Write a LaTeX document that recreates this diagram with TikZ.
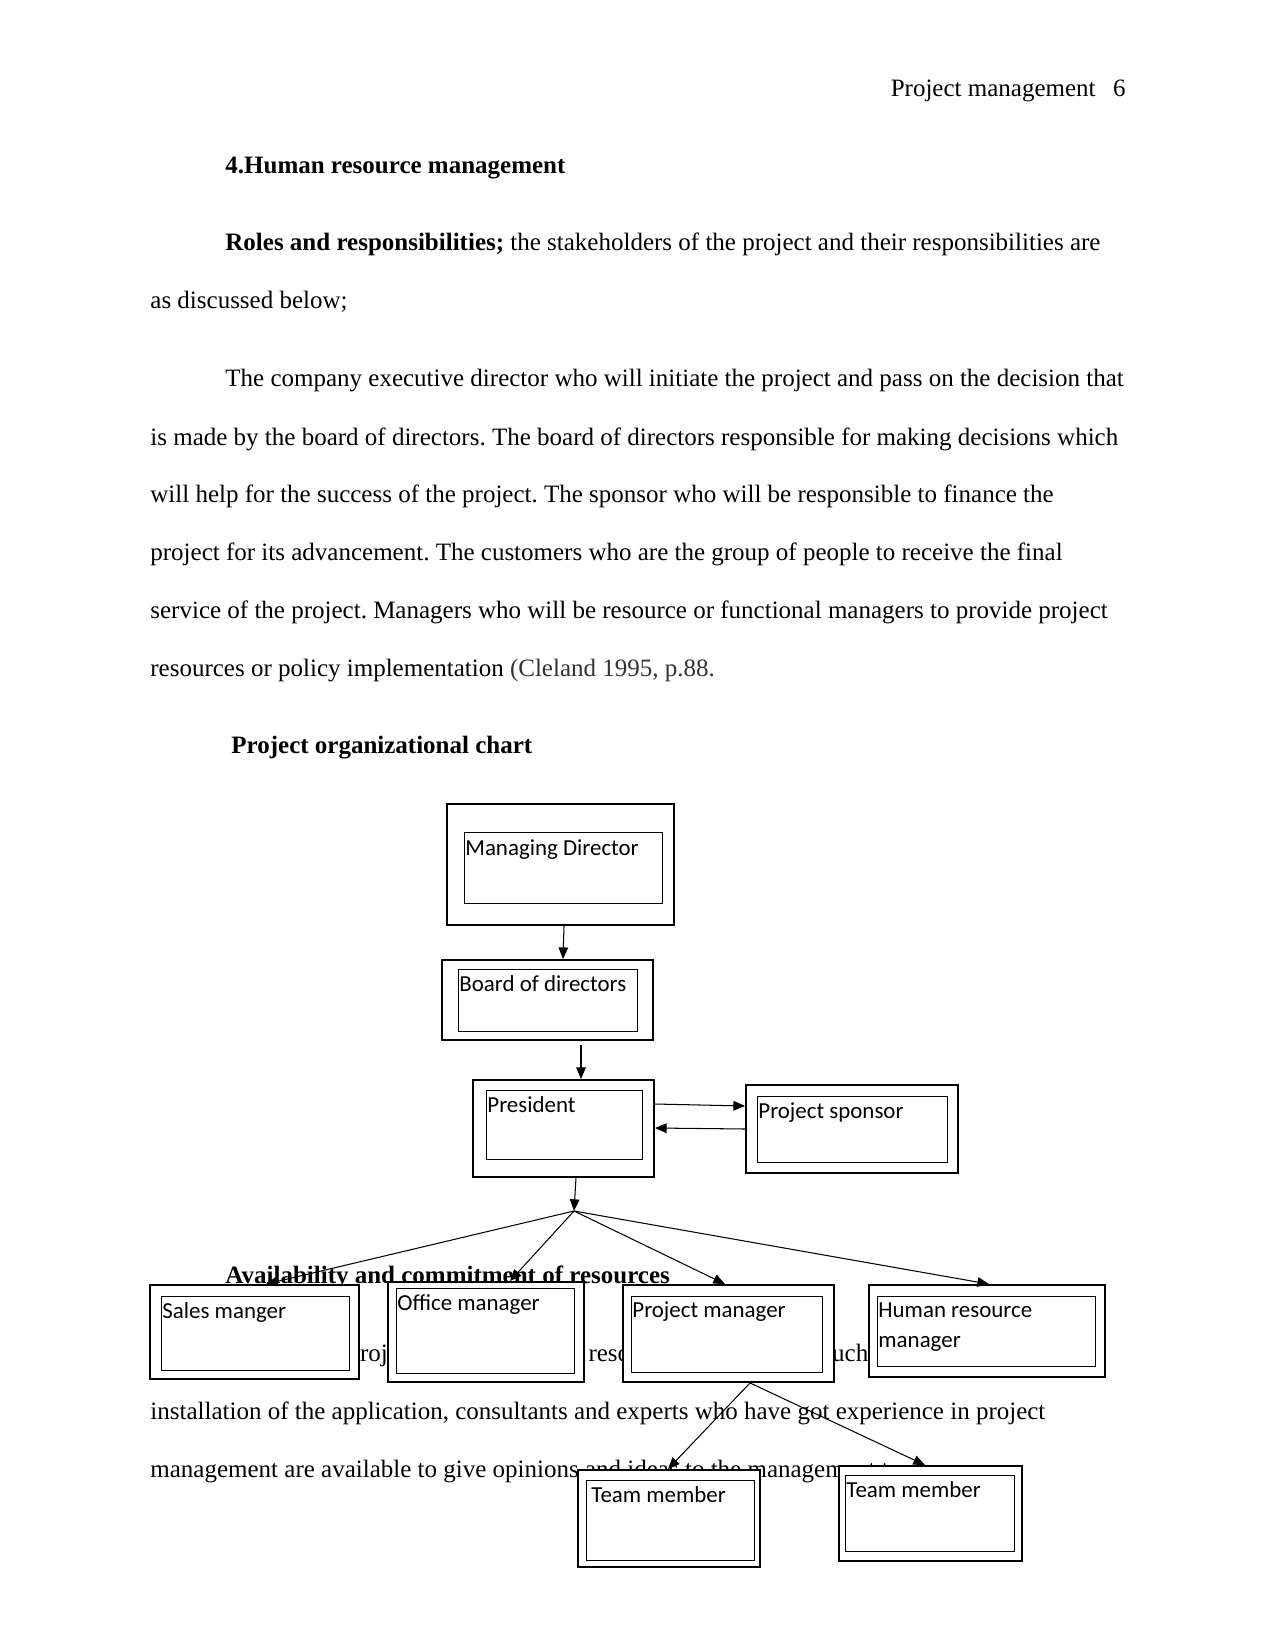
\documentclass[tikz,border=0pt]{standalone}
\usepackage{fontspec}
\setmainfont{Liberation Serif}
\newfontfamily\boxfont{Carlito}
\usepackage{xcolor}
\usetikzlibrary{arrows.meta, fit, positioning}
\definecolor{RefGray}{RGB}{51,51,51}
\frenchspacing
\tikzset{
  >={Triangle[length=5.6pt,width=4.6pt]},  % punta piena
  % Testo della pagina
  body/.style={anchor=base west,inner sep=0,font=\fontsize{12}{14}\selectfont},
  body bold/.style={body,font=\fontsize{12}{14}\selectfont\bfseries},
  % Riquadri dell'organigramma
  box out/.style={draw,line width=0.9pt,fill=white,inner sep=0},
  box in/.style={draw,line width=0.45pt,inner sep=0},
  box label/.style={anchor=base west,inner sep=0,font=\boxfont\fontsize{11}{14}\selectfont},
  % Connessioni
  connect arrow/.style={->,line width=0.5pt}
}

\begin{document}
\begin{tikzpicture}[x=0.48pt,y=-0.48pt]
  \fill[white] (0,0) rectangle (1275,1650);
  \useasboundingbox (0,0) rectangle (1275,1650);
  % intestazione
  \node[body,anchor=base east] (runhead) at (1096,97) {Project management};
  \node[body,anchor=base east] (pagenum) at (1126,97) {6};
  % testo
  \node[body bold] (sec) at (225,174) {4.Human resource management};
  \node[body] (p1a) at (225,251) {\textbf{Roles and responsibilities;} the stakeholders of the project and their responsibilities are};
  \node[body] (p1b) at (150,309) {as discussed below;};
  \node[body] (p2a) at (225,387) {The company executive director who will initiate the project and pass on the decision that};
  \node[body] (p2b) at (150,445) {is made by the board of directors. The board of directors responsible for making decisions which};
  \node[body] (p2c) at (150,502.5) {will help for the success of the project. The sponsor who will be responsible to finance the};
  \node[body] (p2d) at (150,560) {project for its advancement. The customers who are the group of people to receive the final};
  \node[body] (p2e) at (150,618) {service of the project. Managers who will be resource or functional managers to provide project};
  \node[body] (p2f) at (150,676) {resources or policy implementation \textcolor{RefGray}{(Cleland 1995, p.88.}};
  \node[body bold] (chart) at (231,753) {Project organizational chart};
  \node[body bold] (avail) at (225,1283) {Availability and commitment of resources};
  \node[body] (p3a) at (225,1361) {The needed project team and all the resources are available such as};
  \node[body] (p3b) at (150,1419) {installation of the application, consultants and experts who have got experience in project};
  \node[body] (p3c) at (150,1477) {management are available to give opinions and ideas to the management team.};
  % riquadri
  \node[box out,fit={(447,804) (674,925)}] (md) {};
  \node[box in,fit={(464,832) (662,903)}] (mdin) {};
  \node[box label] (mdtxt) at (465,855) {Managing Director};
  \node[box out,fit={(442,960) (653,1040)}] (bod) {};
  \node[box in,fit={(458,969) (637,1031)}] (bodin) {};
  \node[box label] (bodtxt) at (459,991) {Board of directors};
  \node[box out,fit={(473,1080) (654,1177)}] (pres) {};
  \node[box in,fit={(486,1090) (642,1159)}] (presin) {};
  \node[box label] (prestxt) at (487,1112) {President};
  \node[box out,fit={(746,1085) (958,1173)}] (spon) {};
  \node[box in,fit={(757,1096) (947,1162)}] (sponin) {};
  \node[box label] (spontxt) at (758,1118) {Project sponsor};
  \node[box out,fit={(150,1285) (359,1379)}] (sales) {};
  \node[box in,fit={(161,1296) (349,1370)}] (salesin) {};
  \node[box label] (salestxt) at (162,1318) {Sales manger};
  \node[box out,fit={(388,1282) (584,1382)}] (office) {};
  \node[box in,fit={(396,1288) (574,1373)}] (officein) {};
  \node[box label] (officetxt) at (397,1310) {Office manager};
  \node[box out,fit={(623,1285) (834,1382)}] (pm) {};
  \node[box in,fit={(631,1296) (822,1372)}] (pmin) {};
  \node[box label] (pmtxt) at (632,1317) {Project manager};
  \node[box out,fit={(869,1285) (1105,1377)}] (hr) {};
  \node[box in,fit={(877,1296) (1095,1366)}] (hrin) {};
  \node[box label] (hrtxt) at (878,1317) {Human resource};
  \node[box label] (hrtxtb) at (878,1347) {manager};
  \node[box out,fit={(578,1470) (760,1567)}] (tm1) {};
  \node[box in,fit={(586,1480) (754,1560)}] (tm1in) {};
  \node[box label] (tm1txt) at (591,1502) {Team member};
  \node[box out,fit={(839,1466) (1022,1561)}] (tm2) {};
  \node[box in,fit={(845,1475) (1014,1551)}] (tm2in) {};
  \node[box label] (tm2txt) at (846,1497) {Team member};
  % frecce
  \coordinate (bodtail) at (581,1045);
  \coordinate (split) at (574,1211);
  \draw[connect arrow] (564,0 |- md.south) -- (563,0 |- bod.north);
  \draw[connect arrow] (bodtail) -- (581,0 |- pres.north);
  \draw[connect arrow] (pres.east |- 0,1104) -- (spon.west |- 0,1106);
  \draw[connect arrow] (spon.west |- 0,1129) -- (pres.east |- 0,1128);
  \draw[connect arrow] (576,0 |- pres.south) -- (split);
  \draw[connect arrow] (split) -- (266,0 |- sales.north);
  \draw[connect arrow] (split) -- (510,0 |- office.north);
  \draw[connect arrow] (split) -- (725,0 |- pm.north);
  \draw[connect arrow] (split) -- (989,0 |- hr.north);
  \draw[connect arrow] (750,0 |- pm.south) -- (668,0 |- tm1.north);
  \draw[connect arrow] (750,0 |- pm.south) -- (925,0 |- tm2.north);
\end{tikzpicture}
\end{document}
